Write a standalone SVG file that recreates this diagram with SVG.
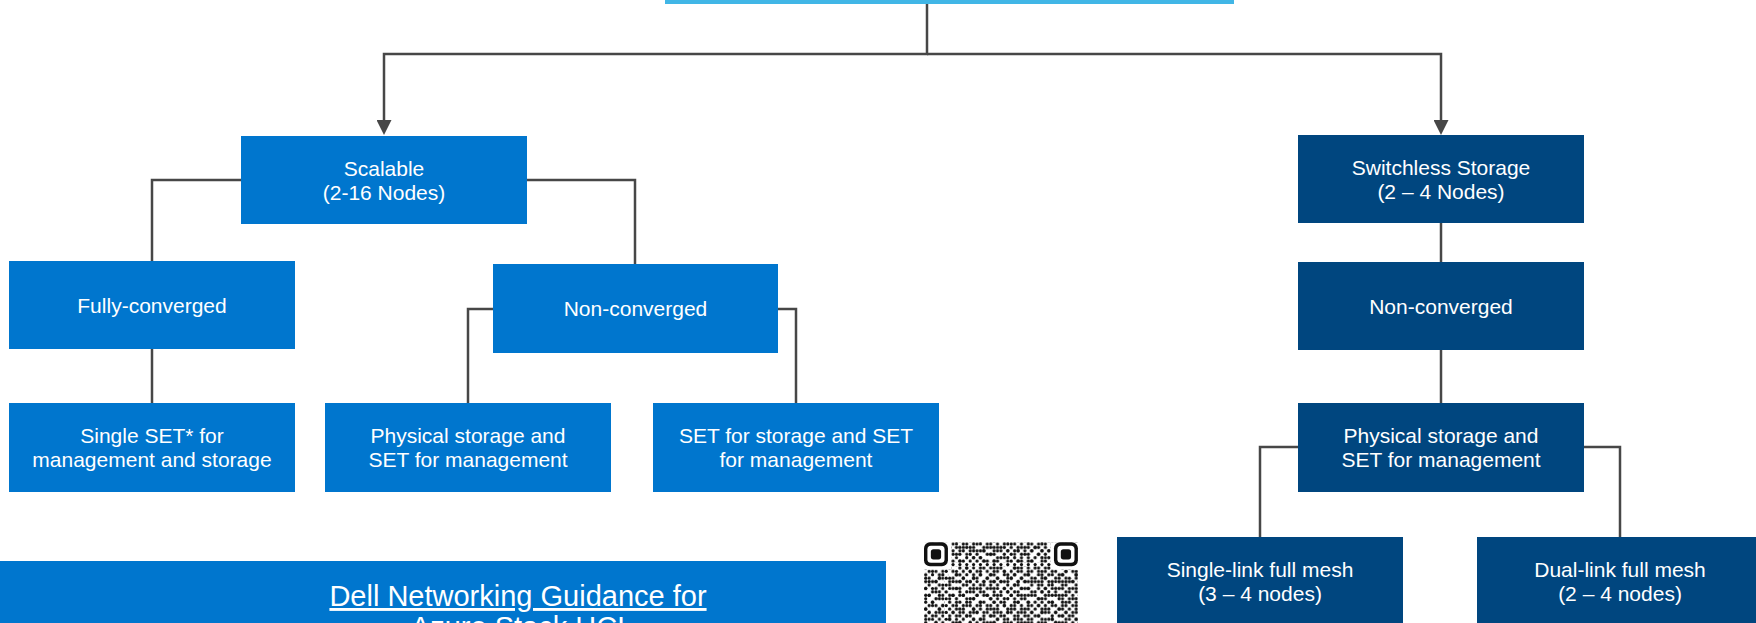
<svg xmlns="http://www.w3.org/2000/svg" width="1756" height="623" viewBox="0 0 1756 623">
  <style>
    .mid { fill: #0076CE; }
    .dark { fill: #00467F; }
    .top { fill: #41B6E6; }
    .lbl { font-family: "Liberation Sans", Arial, sans-serif; font-size: 21px; fill: #FFFFFF; text-anchor: middle; }
    .link { font-family: "Liberation Sans", Arial, sans-serif; font-size: 29px; fill: #FFFFFF; text-anchor: middle; text-decoration: underline; }
    .wire { fill: none; stroke: #474747; stroke-width: 2.5; }
    .qr circle { fill: #111111; }
  </style>
  <defs>
    <marker id="arrow" markerUnits="userSpaceOnUse" markerWidth="15" markerHeight="15" viewBox="0 0 15 15" refX="0" refY="7.5" orient="auto">
      <path d="M0,0 L15,7.5 L0,15 Z" fill="#474747"/>
    </marker>
    <!-- two dot tiles with different periods, overlaid for an irregular module field -->
    <pattern id="dotsA" patternUnits="userSpaceOnUse" x="924" y="542.3" width="34.2" height="34.2">
      <g class="qr">
        <circle cx="5.13" cy="1.71" r="1.6"/><circle cx="15.39" cy="1.71" r="1.6"/><circle cx="18.81" cy="1.71" r="1.6"/><circle cx="29.07" cy="1.71" r="1.6"/>
        <circle cx="1.71" cy="5.13" r="1.6"/><circle cx="8.55" cy="5.13" r="1.6"/><circle cx="11.97" cy="5.13" r="1.6"/><circle cx="25.65" cy="5.13" r="1.6"/><circle cx="32.49" cy="5.13" r="1.6"/>
        <circle cx="5.13" cy="8.55" r="1.6"/><circle cx="15.39" cy="8.55" r="1.6"/><circle cx="22.23" cy="8.55" r="1.6"/><circle cx="25.65" cy="8.55" r="1.6"/>
        <circle cx="1.71" cy="11.97" r="1.6"/><circle cx="11.97" cy="11.97" r="1.6"/><circle cx="18.81" cy="11.97" r="1.6"/><circle cx="29.07" cy="11.97" r="1.6"/><circle cx="32.49" cy="11.97" r="1.6"/>
        <circle cx="8.55" cy="15.39" r="1.6"/><circle cx="15.39" cy="15.39" r="1.6"/><circle cx="22.23" cy="15.39" r="1.6"/>
        <circle cx="1.71" cy="18.81" r="1.6"/><circle cx="5.13" cy="18.81" r="1.6"/><circle cx="18.81" cy="18.81" r="1.6"/><circle cx="25.65" cy="18.81" r="1.6"/><circle cx="29.07" cy="18.81" r="1.6"/>
        <circle cx="11.97" cy="22.23" r="1.6"/><circle cx="15.39" cy="22.23" r="1.6"/><circle cx="32.49" cy="22.23" r="1.6"/>
        <circle cx="1.71" cy="25.65" r="1.6"/><circle cx="8.55" cy="25.65" r="1.6"/><circle cx="22.23" cy="25.65" r="1.6"/><circle cx="25.65" cy="25.65" r="1.6"/>
        <circle cx="5.13" cy="29.07" r="1.6"/><circle cx="11.97" cy="29.07" r="1.6"/><circle cx="18.81" cy="29.07" r="1.6"/><circle cx="29.07" cy="29.07" r="1.6"/>
        <circle cx="1.71" cy="32.49" r="1.6"/><circle cx="15.39" cy="32.49" r="1.6"/><circle cx="22.23" cy="32.49" r="1.6"/><circle cx="32.49" cy="32.49" r="1.6"/>
      </g>
    </pattern>
    <pattern id="dotsB" patternUnits="userSpaceOnUse" x="924" y="542.3" width="23.94" height="30.78">
      <g class="qr">
        <circle cx="8.55" cy="1.71" r="1.6"/><circle cx="18.81" cy="1.71" r="1.6"/>
        <circle cx="1.71" cy="5.13" r="1.6"/><circle cx="15.39" cy="5.13" r="1.6"/>
        <circle cx="5.13" cy="8.55" r="1.6"/><circle cx="11.97" cy="8.55" r="1.6"/><circle cx="22.23" cy="8.55" r="1.6"/>
        <circle cx="18.81" cy="11.97" r="1.6"/>
        <circle cx="1.71" cy="15.39" r="1.6"/><circle cx="8.55" cy="15.39" r="1.6"/>
        <circle cx="11.97" cy="18.81" r="1.6"/><circle cx="22.23" cy="18.81" r="1.6"/>
        <circle cx="5.13" cy="22.23" r="1.6"/><circle cx="15.39" cy="22.23" r="1.6"/>
        <circle cx="1.71" cy="25.65" r="1.6"/><circle cx="18.81" cy="25.65" r="1.6"/>
        <circle cx="8.55" cy="29.07" r="1.6"/><circle cx="22.23" cy="29.07" r="1.6"/>
      </g>
    </pattern>
    <g id="finder">
      <rect x="0" y="0" width="23.94" height="23.94" rx="6" fill="#111111"/>
      <rect x="3.42" y="3.42" width="17.1" height="17.1" rx="3.5" fill="#FFFFFF"/>
      <rect x="6.84" y="6.84" width="10.26" height="10.26" rx="2.6" fill="#111111"/>
    </g>
  </defs>

  <rect width="1756" height="623" fill="#FFFFFF"/>

  <g id="connectors">
    <path class="wire" d="M927,4 V54 H384 V120" marker-end="url(#arrow)"/>
    <path class="wire" d="M927,54 H1441 V120" marker-end="url(#arrow)"/>
    <path class="wire" d="M241,180 H152 V261"/>
    <path class="wire" d="M527,180 H635 V264"/>
    <path class="wire" d="M152,349 V403"/>
    <path class="wire" d="M493,309 H468 V403"/>
    <path class="wire" d="M778,309 H796 V403"/>
    <path class="wire" d="M1441,223 V262"/>
    <path class="wire" d="M1441,350 V403"/>
    <path class="wire" d="M1298,447 H1260 V537"/>
    <path class="wire" d="M1584,447 H1620 V537"/>
  </g>

  <g id="root">
    <rect class="top" x="665" y="-80" width="569" height="84"/>
  </g>

  <g id="scalable">
    <rect class="mid" x="241" y="136" width="286" height="88"/>
    <text class="lbl" x="384" y="176">Scalable</text>
    <text class="lbl" x="384" y="200">(2-16 Nodes)</text>
  </g>

  <g id="fully-converged">
    <rect class="mid" x="9" y="261" width="286" height="88"/>
    <text class="lbl" x="152" y="313">Fully-converged</text>
  </g>

  <g id="non-converged-scalable">
    <rect class="mid" x="493" y="264" width="285" height="89"/>
    <text class="lbl" x="635.5" y="316">Non-converged</text>
  </g>

  <g id="single-set">
    <rect class="mid" x="9" y="403" width="286" height="89"/>
    <text class="lbl" x="152" y="443">Single SET* for</text>
    <text class="lbl" x="152" y="467">management and storage</text>
  </g>

  <g id="physical-storage-scalable">
    <rect class="mid" x="325" y="403" width="286" height="89"/>
    <text class="lbl" x="468" y="443">Physical storage and</text>
    <text class="lbl" x="468" y="467">SET for management</text>
  </g>

  <g id="set-storage">
    <rect class="mid" x="653" y="403" width="286" height="89"/>
    <text class="lbl" x="796" y="443">SET for storage and SET</text>
    <text class="lbl" x="796" y="467">for management</text>
  </g>

  <g id="switchless">
    <rect class="dark" x="1298" y="135" width="286" height="88"/>
    <text class="lbl" x="1441" y="175">Switchless Storage</text>
    <text class="lbl" x="1441" y="199">(2 – 4 Nodes)</text>
  </g>

  <g id="non-converged-switchless">
    <rect class="dark" x="1298" y="262" width="286" height="88"/>
    <text class="lbl" x="1441" y="314">Non-converged</text>
  </g>

  <g id="physical-storage-switchless">
    <rect class="dark" x="1298" y="403" width="286" height="89"/>
    <text class="lbl" x="1441" y="443">Physical storage and</text>
    <text class="lbl" x="1441" y="467">SET for management</text>
  </g>

  <g id="single-link">
    <rect class="dark" x="1117" y="537" width="286" height="88"/>
    <text class="lbl" x="1260" y="577">Single-link full mesh</text>
    <text class="lbl" x="1260" y="601">(3 – 4 nodes)</text>
  </g>

  <g id="dual-link">
    <rect class="dark" x="1477" y="537" width="286" height="88"/>
    <text class="lbl" x="1620" y="577">Dual-link full mesh</text>
    <text class="lbl" x="1620" y="601">(2 – 4 nodes)</text>
  </g>

  <g id="guidance-banner">
    <rect class="mid" x="0" y="561" width="886" height="80"/>
    <text class="link" x="518" y="606">Dell Networking Guidance for</text>
    <text class="link" x="518" y="637">Azure Stack HCI</text>
  </g>

  <g id="qr-code">
    <rect x="924" y="542.3" width="154" height="81" fill="url(#dotsA)"/>
    <rect x="924" y="542.3" width="154" height="81" fill="url(#dotsB)"/>
    <!-- quiet zones round the finders, timing row and column -->
    <rect x="924" y="542.3" width="27.36" height="27.36" fill="#FFFFFF"/>
    <rect x="1050.54" y="542.3" width="27.46" height="27.36" fill="#FFFFFF"/>
    <rect x="951.36" y="562.82" width="99.18" height="3.42" fill="#FFFFFF"/>
    <rect x="944.52" y="569.66" width="3.42" height="54" fill="#FFFFFF"/>
    <use href="#finder" x="924" y="542.3"/>
    <use href="#finder" x="1053.96" y="542.3"/>
    <g class="qr">
      <circle cx="953.07" cy="564.53" r="1.6"/><circle cx="959.91" cy="564.53" r="1.6"/><circle cx="966.75" cy="564.53" r="1.6"/><circle cx="973.59" cy="564.53" r="1.6"/>
      <circle cx="980.43" cy="564.53" r="1.6"/><circle cx="987.27" cy="564.53" r="1.6"/><circle cx="994.11" cy="564.53" r="1.6"/><circle cx="1000.95" cy="564.53" r="1.6"/>
      <circle cx="1007.79" cy="564.53" r="1.6"/><circle cx="1014.63" cy="564.53" r="1.6"/><circle cx="1021.47" cy="564.53" r="1.6"/><circle cx="1028.31" cy="564.53" r="1.6"/>
      <circle cx="1035.15" cy="564.53" r="1.6"/><circle cx="1041.99" cy="564.53" r="1.6"/><circle cx="1048.83" cy="564.53" r="1.6"/>
      <circle cx="946.23" cy="571.37" r="1.6"/><circle cx="946.23" cy="578.21" r="1.6"/><circle cx="946.23" cy="585.05" r="1.6"/><circle cx="946.23" cy="591.89" r="1.6"/>
      <circle cx="946.23" cy="598.73" r="1.6"/><circle cx="946.23" cy="605.57" r="1.6"/><circle cx="946.23" cy="612.41" r="1.6"/><circle cx="946.23" cy="619.25" r="1.6"/>
    </g>
  </g>
</svg>
